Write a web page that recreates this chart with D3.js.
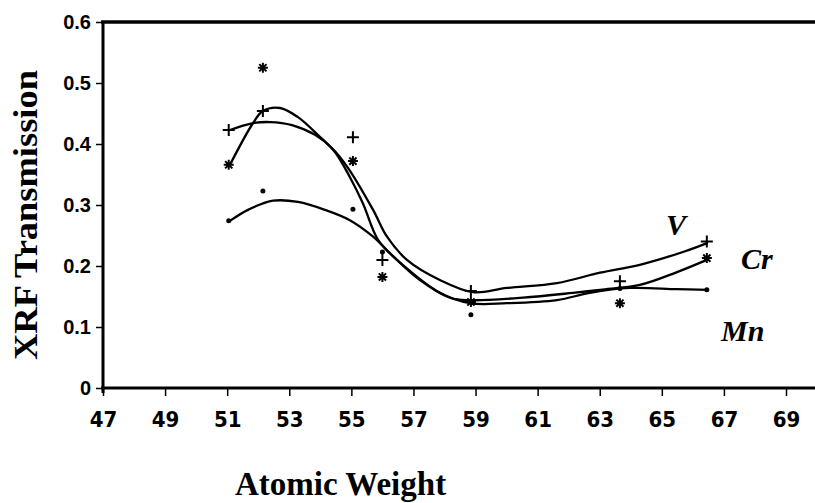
<!DOCTYPE html>
<html>
<head>
<meta charset="utf-8">
<script src="https://cdn.jsdelivr.net/npm/d3@7/dist/d3.min.js"></script>
<style>
  body { margin: 0; background: #fff; }
  svg { display: block; }
  .y-axis text { font-family: "Liberation Sans", Arial, sans-serif; font-weight: bold; font-size: 20px; fill: #000; }
  .x-axis text { font-family: "Liberation Sans Narrow", "Arial Narrow", "DejaVu Sans Condensed", sans-serif; font-weight: bold; font-size: 22px; fill: #000; }
  .axis-title { font-family: "Liberation Serif", "Times New Roman", serif; font-weight: bold; font-size: 33px; fill: #000; }
  .series-label { font-family: "Liberation Serif", "Times New Roman", serif; font-style: italic; font-weight: bold; font-size: 30px; fill: #000; }
</style>
</head>
<body>
<div class="chart"></div>
<script>

// atomic weights of the measured points
var weights = [51.05, 52.15, 55.05, 56.0, 58.85, 63.65, 66.45];

// measured transmission, one array per element
var vValues  = [0.423, 0.454, 0.411, 0.210, 0.159, 0.175, 0.240];
var crValues = [0.366, 0.525, 0.372, 0.182, 0.141, 0.139, 0.213];
var mnValues = [0.274, 0.323, 0.293, 0.223, 0.120, 0.163, 0.161];

// hand drawn fit curves as [weight, transmission]
var vCurve = [[51.09,0.423],[51.80,0.434],[52.38,0.436],[53.09,0.431],[53.83,0.415],[54.38,0.393],
  [54.89,0.361],[55.70,0.292],[56.15,0.248],[56.79,0.210],[57.85,0.177],[58.92,0.157],[60.01,0.164],
  [61.62,0.172],[63.01,0.189],[64.29,0.202],[65.68,0.223],[66.48,0.238]];
var crCurve = [[51.09,0.366],[51.83,0.434],[52.15,0.454],[52.70,0.459],[53.28,0.444],[53.92,0.415],
  [54.47,0.387],[54.95,0.346],[55.37,0.303],[55.86,0.243],[56.47,0.210],[57.21,0.177],[58.18,0.148],
  [58.82,0.144],[60.53,0.148],[62.14,0.156],[63.01,0.161],[64.29,0.169],[65.49,0.190],[66.45,0.210]];
var mnCurve = [[51.09,0.274],[51.67,0.292],[52.48,0.307],[53.28,0.305],[54.15,0.292],[54.95,0.275],
  [55.70,0.248],[56.47,0.210],[57.85,0.156],[58.82,0.139],[60.01,0.139],[61.62,0.144],[62.68,0.156],
  [63.97,0.164],[65.49,0.162],[66.48,0.161]];

// axis ticks
var xTicks = [47, 49, 51, 53, 55, 57, 59, 61, 63, 65, 67, 69];
var yTicks = [0, 0.1, 0.2, 0.3, 0.4, 0.5, 0.6];

var seriesNames = ["V", "Cr", "Mn"];

var svgWidth = 815;
var svgHeight = 503;

var svg = d3.select(".chart")
  .append("svg")
  .attr("width", svgWidth)
  .attr("height", svgHeight);

var xScale = d3.scaleLinear().domain([47, 69]).range([103, 786]);
var yScale = d3.scaleLinear().domain([0, 0.6]).range([388, 22]);

// the frame lines run on to the right edge of the page
var frameRight = svgWidth;

// x axis
var bottomAxis = d3.axisBottom(xScale)
  .tickValues(xTicks)
  .tickSize(8)
  .tickSizeOuter(0)
  .tickFormat(d3.format("d"));

var xAxisG = svg.append("g")
  .attr("class", "x-axis")
  .attr("transform", "translate(0," + yScale(0) + ")")
  .call(bottomAxis);
xAxisG.select(".domain").remove();
xAxisG.selectAll("line").attr("stroke", "#000").attr("stroke-width", 1.5);
xAxisG.selectAll("text").attr("y", 39).attr("dy", 0);

// y axis
var leftAxis = d3.axisLeft(yScale)
  .tickValues(yTicks)
  .tickSize(7)
  .tickSizeOuter(0)
  .tickPadding(5)
  .tickFormat(function(d) { return d === 0 ? "0" : d3.format(".1f")(d); });

var yAxisG = svg.append("g")
  .attr("class", "y-axis")
  .attr("transform", "translate(" + xScale(47) + ",0)")
  .call(leftAxis);
yAxisG.select(".domain").remove();
yAxisG.selectAll("line").attr("stroke", "#000").attr("stroke-width", 1.5);

// thick frame: left axis, bottom axis and top line
svg.append("line")
  .attr("x1", xScale(47)).attr("x2", xScale(47))
  .attr("y1", yScale(0.6) - 1).attr("y2", yScale(0) + 5)
  .attr("stroke", "#000").attr("stroke-width", 3);
svg.append("line")
  .attr("x1", xScale(47) - 2).attr("x2", frameRight)
  .attr("y1", yScale(0)).attr("y2", yScale(0))
  .attr("stroke", "#000").attr("stroke-width", 3);
svg.append("line")
  .attr("x1", xScale(47) - 2).attr("x2", frameRight)
  .attr("y1", yScale(0.6)).attr("y2", yScale(0.6))
  .attr("stroke", "#000").attr("stroke-width", 3.5);

// fit curves
var line = d3.line()
  .x(function(d) { return xScale(d[0]); })
  .y(function(d) { return yScale(d[1]); })
  .curve(d3.curveCatmullRom.alpha(0.5));

[vCurve, crCurve, mnCurve].forEach(function(c) {
  svg.append("path")
    .datum(c)
    .attr("d", line)
    .attr("fill", "none")
    .attr("stroke", "#000")
    .attr("stroke-width", 2.3);
});

// markers: + for V, * for Cr, dot for Mn
var plusPath = "M-6,0H6M0,-6V6";
var starPath = "M-5,0H5M0,-5V5M-3.6,-3.6L3.6,3.6M-3.6,3.6L3.6,-3.6";

svg.selectAll(".v-mark")
  .data(vValues)
  .enter()
  .append("path")
  .attr("class", "v-mark")
  .attr("transform", function(d, i) { return "translate(" + xScale(weights[i]) + "," + yScale(d) + ")"; })
  .attr("d", plusPath)
  .attr("stroke", "#000")
  .attr("stroke-width", 2);

svg.selectAll(".cr-mark")
  .data(crValues)
  .enter()
  .append("path")
  .attr("class", "cr-mark")
  .attr("transform", function(d, i) { return "translate(" + xScale(weights[i]) + "," + yScale(d) + ")"; })
  .attr("d", starPath)
  .attr("stroke", "#000")
  .attr("stroke-width", 2);

svg.selectAll(".mn-mark")
  .data(mnValues)
  .enter()
  .append("circle")
  .attr("class", "mn-mark")
  .attr("cx", function(d, i) { return xScale(weights[i]); })
  .attr("cy", function(d) { return yScale(d); })
  .attr("r", 2.5)
  .attr("fill", "#000");

// series names next to the curve ends
svg.append("text").attr("class", "series-label")
  .attr("x", 666).attr("y", 235).text(seriesNames[0]);
svg.append("text").attr("class", "series-label")
  .attr("x", 741).attr("y", 269).text(seriesNames[1]);
svg.append("text").attr("class", "series-label")
  .attr("x", 721).attr("y", 341).text(seriesNames[2]);

// axis titles
svg.append("text")
  .attr("class", "axis-title")
  .attr("transform", "translate(37,215) rotate(-90)")
  .attr("text-anchor", "middle")
  .attr("textLength", 290)
  .attr("lengthAdjust", "spacingAndGlyphs")
  .text("XRF Transmission");

svg.append("text")
  .attr("class", "axis-title")
  .attr("x", 235)
  .attr("y", 495)
  .text("Atomic Weight");

</script>
</body>
</html>
